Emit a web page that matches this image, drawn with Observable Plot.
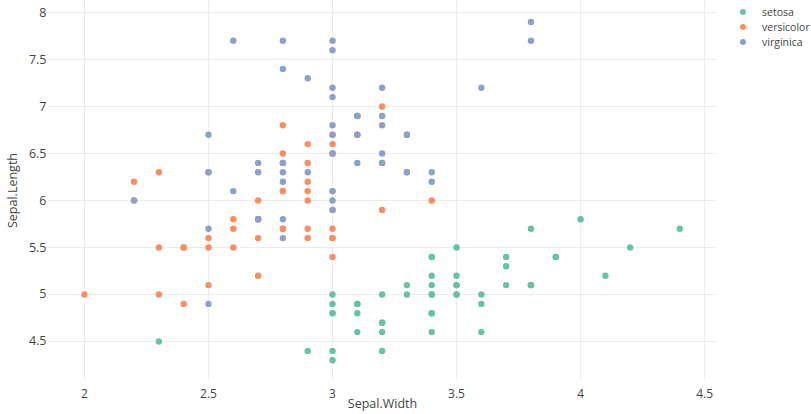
<!DOCTYPE html>
<html>
<head>
<meta charset="utf-8">
<script src="https://cdn.jsdelivr.net/npm/d3@7"></script>
<script src="https://cdn.jsdelivr.net/npm/@observablehq/plot@0.6"></script>
<style>
  body { margin: 0; background: #fff; font-family: "Open Sans", sans-serif; }
  #wrap { position: relative; width: 811px; height: 414px; }
  #legend { position: absolute; left: 738px; top: 4px; font-size: 10.5px; color: #444; }
  #legend div { display: flex; align-items: center; height: 15px; }
  #legend span.dot { display: inline-block; width: 6px; height: 6px; border-radius: 50%; margin-right: 16px; margin-left: 2px; }
</style>
</head>
<body>
<div id="wrap"><div id="legend"></div></div>
<script>
const species = ["setosa", "versicolor", "virginica"];
const colors = ["#66c2a5", "#fc8d62", "#8da0cb"];
const xTicks = [2, 2.5, 3, 3.5, 4, 4.5];
const yTicks = [4.5, 5, 5.5, 6, 6.5, 7, 7.5, 8];

const setosaLength = [5.1,4.9,4.7,4.6,5.0,5.4,4.6,5.0,4.4,4.9,5.4,4.8,4.8,4.3,5.8,5.7,5.4,5.1,5.7,5.1,5.4,5.1,4.6,5.1,4.8,5.0,5.0,5.2,5.2,4.7,4.8,5.4,5.2,5.5,4.9,5.0,5.5,4.9,4.4,5.1,5.0,4.5,4.4,5.0,5.1,4.8,5.1,4.6,5.3,5.0];
const setosaWidth = [3.5,3.0,3.2,3.1,3.6,3.9,3.4,3.4,2.9,3.1,3.7,3.4,3.0,3.0,4.0,4.4,3.9,3.5,3.8,3.8,3.4,3.7,3.6,3.3,3.4,3.0,3.4,3.5,3.4,3.2,3.1,3.4,4.1,4.2,3.1,3.2,3.5,3.6,3.0,3.4,3.5,2.3,3.2,3.5,3.8,3.0,3.8,3.2,3.7,3.3];
const versicolorLength = [7.0,6.4,6.9,5.5,6.5,5.7,6.3,4.9,6.6,5.2,5.0,5.9,6.0,6.1,5.6,6.7,5.6,5.8,6.2,5.6,5.9,6.1,6.3,6.1,6.4,6.6,6.8,6.7,6.0,5.7,5.5,5.5,5.8,6.0,5.4,6.0,6.7,6.3,5.6,5.5,5.5,6.1,5.8,5.0,5.6,5.7,5.7,6.2,5.1,5.7];
const versicolorWidth = [3.2,3.2,3.1,2.3,2.8,2.8,3.3,2.4,2.9,2.7,2.0,3.0,2.2,2.9,2.9,3.1,3.0,2.7,2.2,2.5,3.2,2.8,2.5,2.8,2.9,3.0,2.8,3.0,2.9,2.6,2.4,2.4,2.7,2.7,3.0,3.4,3.1,2.3,3.0,2.5,2.6,3.0,2.6,2.3,2.7,3.0,2.9,2.9,2.5,2.8];
const virginicaLength = [6.3,5.8,7.1,6.3,6.5,7.6,4.9,7.3,6.7,7.2,6.5,6.4,6.8,5.7,5.8,6.4,6.5,7.7,7.7,6.0,6.9,5.6,7.7,6.3,6.7,7.2,6.2,6.1,6.4,7.2,7.4,7.9,6.4,6.3,6.1,7.7,6.3,6.4,6.0,6.9,6.7,6.9,5.8,6.8,6.7,6.7,6.3,6.5,6.2,5.9];
const virginicaWidth = [3.3,2.7,3.0,2.9,3.0,3.0,2.5,2.9,2.5,3.6,3.2,2.7,3.0,2.5,2.8,3.2,3.0,3.8,2.6,2.2,3.2,2.8,2.8,2.7,3.3,3.2,2.8,3.0,2.8,3.0,2.8,3.8,2.8,2.8,2.6,3.0,3.4,3.1,3.0,3.1,3.1,3.1,2.7,3.2,3.3,3.0,2.5,3.0,3.4,3.0];

const lengths = [setosaLength, versicolorLength, virginicaLength];
const widths = [setosaWidth, versicolorWidth, virginicaWidth];
const data = [];
species.forEach((s, i) => {
  lengths[i].forEach((v, j) => data.push({species: s, length: v, width: widths[i][j]}));
});

const chart = Plot.plot({
  width: 811,
  height: 414,
  marginLeft: 48,
  marginRight: 95,
  marginTop: 0,
  marginBottom: 34,
  style: {fontFamily: "'Open Sans', sans-serif", fontSize: "12px", color: "#444", background: "#fff"},
  x: {domain: [1.855, 4.548]},
  y: {domain: [4.085, 8.128]},
  color: {domain: species, range: colors},
  marks: [
    Plot.gridX(xTicks, {stroke: "#ebebeb", strokeOpacity: 1}),
    Plot.gridY(yTicks, {stroke: "#ebebeb", strokeOpacity: 1}),
    Plot.axisX(xTicks, {tickSize: 0, tickPadding: 9, tickFormat: d => String(d), fill: "#444", label: null}),
    Plot.axisY(yTicks, {tickSize: 0, tickPadding: 2, tickFormat: d => String(d), fill: "#444", label: "Sepal.Length", labelAnchor: "center", labelOffset: 40, labelArrow: "none", fontSize: 12.5}),
    Plot.text(["Sepal.Width"], {frameAnchor: "bottom", dy: 27, text: d => d, fill: "#444", fontSize: 12.5})
  ].concat([
    Plot.dot(data, {x: "width", y: "length", fill: "species", r: 3.2, stroke: null})
  ])
});
document.getElementById("wrap").prepend(chart);
chart.style.position = "absolute";
chart.style.left = "0";
chart.style.top = "0";

const legend = document.getElementById("legend");
species.forEach((s, i) => {
  const row = document.createElement("div");
  row.innerHTML = `<span class="dot" style="background:${colors[i]}"></span><span>${s}</span>`;
  legend.appendChild(row);
});
</script>
</body>
</html>
